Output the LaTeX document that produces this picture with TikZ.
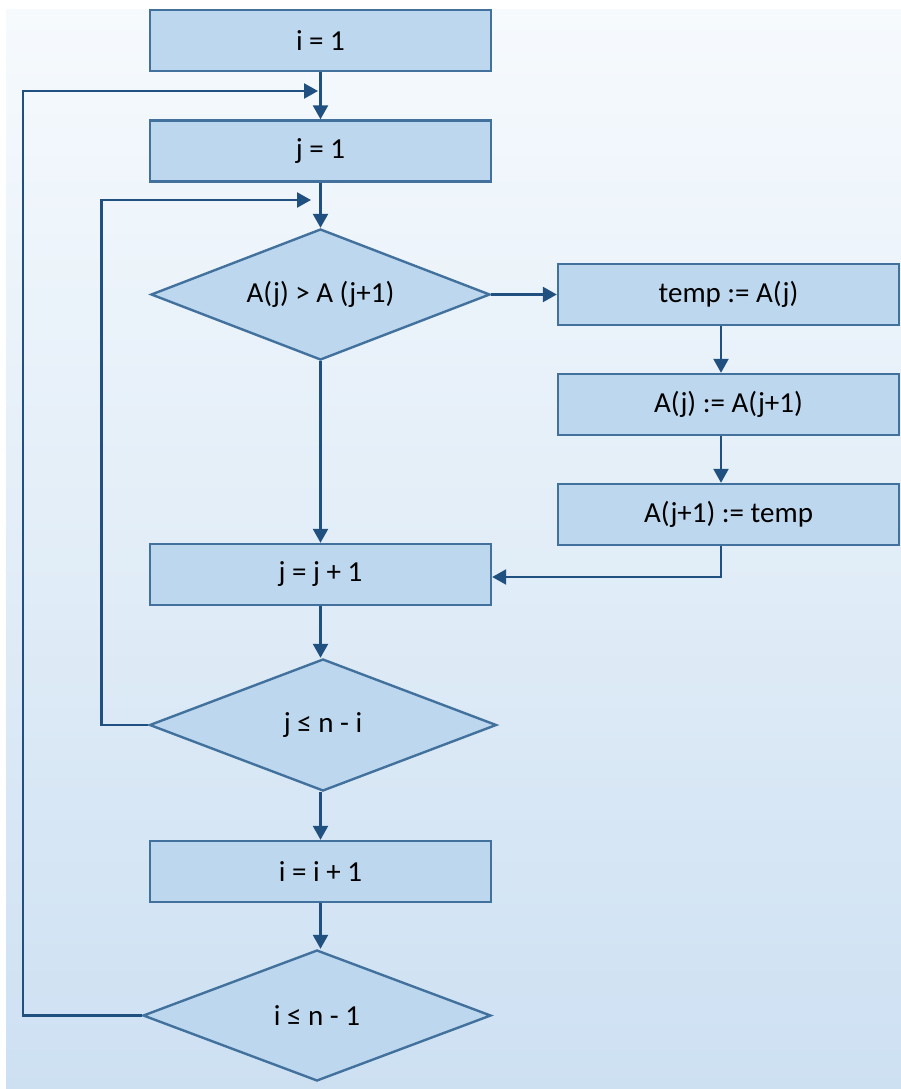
\documentclass[tikz,border=0pt]{standalone}
\usepackage{fontspec}
\setmainfont{Carlito}
\usetikzlibrary{shapes.geometric,arrows.meta,calc}
\definecolor{boxfill}{HTML}{BDD7EE}
\definecolor{boxline}{HTML}{41719C}
\definecolor{conn}{HTML}{1F5080}
\definecolor{bgtop}{HTML}{F6FAFD}
\definecolor{bgbot}{HTML}{CDE0F2}
\tikzset{
  stepbox/.style={rectangle,draw=boxline,fill=boxfill,line width=2.4pt,
    minimum width=341pt,minimum height=61pt,inner sep=0pt,
    font=\fontsize{29}{34}\selectfont},
  decbox/.style={diamond,draw=boxline,fill=boxfill,line width=2.4pt,
    inner sep=0pt,shape aspect=2.6,
    font=\fontsize{29}{34}\selectfont},
  arr/.style={draw=conn,line width=2.4pt,-{Triangle[length=14pt,width=15pt]}},
  ln/.style={draw=conn,line width=2.4pt}
}
\begin{document}
\begin{tikzpicture}[x=1pt,y=-1pt]
\useasboundingbox (0,0) rectangle (901,1089);
\fill[white] (0,0) rectangle (901,1089);
\shade[top color=bgtop,bottom color=bgbot] (6,10) rectangle (901,1089);

\node[stepbox] (i1) at (320.5,40.5) {i = 1};
\node[stepbox] (j1) at (320.5,151) {j = 1};
\node[decbox,minimum width=339pt,minimum height=131pt] (d1) at (320.5,294.5) {A(j) > A (j+1)};
\node[stepbox] (t1) at (728.5,294.5) {temp := A(j)};
\node[stepbox] (t2) at (728.5,404.5) {A(j) := A(j+1)};
\node[stepbox] (t3) at (728.5,514.5) {A(j+1) := temp};
\node[stepbox] (jj) at (320.5,574.5) {j = j + 1};
\node[decbox,minimum width=347pt,minimum height=132pt] (d2) at (323,725) {j ≤ n - i};
\node[stepbox] (ii) at (320.5,871.5) {i = i + 1};
\node[decbox,minimum width=348pt,minimum height=131pt] (d3) at (317,1015.5) {i ≤ n - 1};

\coordinate (cx) at (721,0);
\coordinate (cy) at (0,577);
\coordinate (outerx) at (23,0);
\coordinate (outertip) at (318,91);
\coordinate (innerx) at (101.5,0);
\coordinate (innertip) at (311,200);

\draw[arr] (i1.south) -- (j1.north);
\draw[arr] (j1.south) -- (d1.north);
\draw[arr] (d1.east) -- (t1.west);
\draw[arr] (t1.south -| cx) -- (t2.north -| cx);
\draw[arr] (t2.south -| cx) -- (t3.north -| cx);
\draw[arr] (t3.south -| cx) -- (cx |- cy) -- (jj.east |- cy);
\draw[arr] (d1.south) -- (jj.north);
\draw[arr] (jj.south) -- (jj.south |- d2.north);
\draw[arr] (d2.south -| jj.south) -- (ii.north);
\draw[arr] (ii.south) -- (ii.south |- d3.north);
\draw[arr] (d2.west) -- (innerx |- d2.west) -- (innerx |- innertip) -- (innertip);
\draw[arr] (d3.west) -- (outerx |- d3.west) -- (outerx |- outertip) -- (outertip);
\end{tikzpicture}
\end{document}
